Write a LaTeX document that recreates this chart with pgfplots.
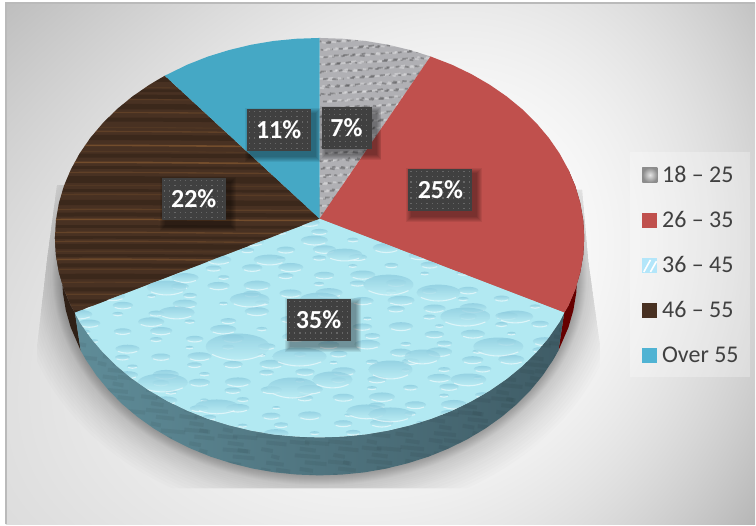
\documentclass[border=0pt]{standalone}
\usepackage{fontspec}
\setmainfont{Carlito}
\usepackage{pgfplots}
\usepackage{pgfplotstable}
\pgfplotsset{compat=1.18}

\definecolor{granitebase}{HTML}{B0B0B4}
\definecolor{pieRed}{HTML}{C0504D}
\definecolor{pieWater}{HTML}{B2E9F2}
\definecolor{dropTop}{HTML}{8CCBDE}
\definecolor{dropBottom}{HTML}{BDEDF4}
\definecolor{pieWood}{HTML}{483122}
\definecolor{pieBlue}{HTML}{45A8C5}
\definecolor{keyBlue}{HTML}{50B3D3}
\definecolor{boxgray}{HTML}{404040}
\definecolor{legtext}{HTML}{404040}
\definecolor{wallA}{HTML}{5F8C98}
\definecolor{wallB}{HTML}{4A7380}
\definecolor{wallC}{HTML}{3F5C66}

% Wall gradient: bright toward the middle right, darker at the corners
\pgfdeclarefunctionalshading{wallshade}{\pgfpoint{0bp}{0bp}}{\pgfpoint{100bp}{100bp}}{}{
  50 sub 25 div exch 50 sub 25 div
  dup 0.2 sub dup dup mul exch 0.06 mul 0.19 add mul 1 exch sub
  2 index dup mul 0.085 mul sub
  1 index 1 exch sub 3 index 1 exch sub mul 0.25 mul dup mul 0.12 mul add
  1 index 1 add 3 index 1 exch sub mul 0.25 mul dup mul 0.05 mul sub
  3 1 roll pop pop dup dup
}

% Top-face outlines of the five slices, in pixel units
\newcommand\ptsGranite{(320,219) (320,38) (343.1,38.8) (366,41) (388.6,44.8) (410.6,50.1) (431,56.5)}
\newcommand\ptsRed{(320,219) (431,56.5) (452.5,64.8) (472,74.2) (490.3,84.8) (507.4,96.6) (523,109.4) (537.1,123.3) (549.5,138) (560.2,153.5) (569,169.6) (576,186.2) (581,203.3) (584,220.6) (585,238) (584,255.4) (581,272.7) (576,289.8) (569,306.4) (565,313)}
\newcommand\ptsWater{(320,219) (565,313) (560.2,322.5) (549.5,338) (537.1,352.7) (523,366.6) (507.4,379.4) (490.3,391.2) (472,401.8) (452.5,411.2) (432,419.3) (410.6,425.9) (388.6,431.2) (366,435) (343.1,437.2) (320,438) (296.9,437.2) (274,435) (251.4,431.2) (229.4,425.9) (208,419.3) (187.5,411.2) (168,401.8) (149.7,391.2) (132.6,379.4) (117,366.6) (102.9,352.7) (90.5,338) (79.8,322.5) (75,313)}
\newcommand\ptsWood{(320,219) (75,313) (71,306.4) (64,289.8) (59,272.7) (56,255.4) (55,238) (56,220.6) (59,203.3) (64,186.2) (71,169.6) (79.8,153.5) (90.5,138) (102.9,123.3) (117,109.4) (132.6,96.6) (149.7,84.8) (165,75.8)}
\newcommand\ptsBlue{(320,219) (165,75.8) (187.5,64.8) (208,56.7) (229.4,50.1) (251.4,44.8) (274,41) (296.9,38.8) (320,38)}
% Side walls of the disc
\newcommand\ptsFrontWall{(565,313) (560.2,322.5) (549.5,338) (537.1,352.7) (523,366.6) (507.4,379.4) (490.3,391.2) (472,401.8) (452.5,411.2) (432,419.3) (410.6,425.9) (388.6,431.2) (366,435) (343.1,437.2) (320,438) (296.9,437.2) (274,435) (251.4,431.2) (229.4,425.9) (208,419.3) (187.5,411.2) (168,401.8) (149.7,391.2) (132.6,379.4) (117,366.6) (102.9,352.7) (90.5,338) (79.8,322.5) (75,313) (80.8,351) (86.2,360.5) (96.6,376) (108.7,390.7) (122.4,404.6) (137.6,417.4) (154.2,429.2) (172,439.8) (191,449.2) (211,457.3) (231.8,463.9) (253.2,469.2) (275.2,473) (297.5,475.2) (320,476) (342.5,475.2) (364.8,473) (386.8,469.2) (408.2,463.9) (429,457.3) (449,449.2) (468,439.8) (485.8,429.2) (502.4,417.4) (517.6,404.6) (531.3,390.7) (543.4,376) (553.8,360.5) (559.2,351)}
\newcommand\ptsRedWall{(569,169.6) (576,186.2) (581,203.3) (584,220.6) (585,238) (584,255.4) (581,272.7) (576,289.8) (569,306.4) (565,313) (559.2,351) (569.2,327.8) (574.1,310.7) (577,293.4) (578,276)}
\newcommand\ptsWoodWall{(75,313) (71,306.4) (64,289.8) (59,272.7) (56,255.4) (55,238) (62,276) (63,293.4) (65.9,310.7) (70.8,327.8) (80.8,351)}

\newcommand\sliceplot[2]{\edef\tmpplot{\noexpand\addplot[#1] coordinates {#2} --cycle;}\tmpplot}
\newcommand\clipto[1]{\edef\tmpclip{\noexpand\clip plot coordinates {#1} --cycle;}\tmpclip}

% Soft shadow the disc throws on the wall behind it
\newcommand\discShadow{%
  \begin{scope}
    \clip (57,185) -- (47,260) -- (37,347) -- (37,489) -- (601,489) -- (601,347) -- (589,260) -- (583,190) -- cycle;
    \foreach \k in {44,41,38,35,32,29,26,24,22,20,18,16,14,12,10}{
      \fill[black,opacity=.01] (320,276) ellipse [x radius=258+\k, y radius=200+\k];
    }
    \foreach \k in {9,8,7,6,5,4,3,2,1}{
      \fill[black,opacity=.024] (320,276) ellipse [x radius=258+\k, y radius=200+\k];
    }
  \end{scope}}

% Granite grain on the first slice
\newcommand\graniteGrain{%
  \begin{scope}
    \clipto{\ptsGranite}
    \foreach \i in {1,...,900}{
      \pgfmathsetmacro\px{318+116*mod(\i*0.7549,1)}
      \pgfmathsetmacro\py{36+186*mod(\i*0.5698,1)}
      \pgfmathsetmacro\pl{2+4*mod(\i*0.381,1)}
      \pgfmathsetmacro\pd{1.6*mod(\i*0.2113,1)-0.8}
      \pgfmathparse{mod(\i,2)==0 ? "white" : "black!85"}
      \edef\pc{\pgfmathresult}
      \draw[\pc,opacity=.3,line width=1.3] (\px,\py) -- ({\px+\pl},{\py+\pd});
    }
  \end{scope}}

% Wood figure on the fourth slice
\newcommand\woodGrain{%
  \begin{scope}
    \clipto{\ptsWood}
    \foreach \y/\w in {80/3,91/2,97/3,107/4,120/3,138/4,156/3,168/2,180/5,191/2,203/4,215/3,227/2,238/2,247/4,256/2,266/3,277/4,290/3,302/3,312/2}{
      \draw[black!60!pieWood,opacity=.3,line width=\w] (40,\y) .. controls (150,\y-1) and (230,\y+1) .. (330,\y+0.5);
    }
    \foreach \y/\o/\w in {88/.2/.8,100/.3/.8,113/.45/1,128/.2/.8,132/.45/1,146/.8/1.2,152/.2/.8,163/.8/1.2,173/.45/1,186/.2/.8,195/.3/1,210/.4/1,220/.8/1.1,233/.55/1,242/.45/1,252/.2/.8,260/.7/1.2,270/.3/.8,283/.3/.8,295/.4/1,306/.2/.8}{
      \draw[brown!45!pieWood,opacity=\o,line width=\w] (40,\y) .. controls (150,\y-1.5) and (230,\y+1.5) .. (330,\y+0.5);
    }
  \end{scope}}

% One droplet on the water slice, with a bright lip along its lower edge
\newcommand\drop[4]{%
  \shade[top color=dropTop,bottom color=dropBottom,opacity=.75] (#1,#2) ellipse [x radius=#3, y radius=#4];
  \draw[white,opacity=.55,line width=.8] (#1-#3*.8,#2+#4*.6) .. controls (#1-#3*.3,#2+#4*1.2) and (#1+#3*.3,#2+#4*1.2) .. (#1+#3*.8,#2+#4*.6);
}

\newcommand\waterDrops{%
  \begin{scope}
    \clipto{\ptsWater}
    \foreach \i in {1,...,260}{
      \pgfmathsetmacro\px{75+490*mod(\i*0.7549,1)}
      \pgfmathsetmacro\py{219+219*mod(\i*0.5698,1)}
      \pgfmathsetmacro\rx{4+10*mod(\i*0.381,1)}
      \pgfmathsetmacro\ry{\rx*0.34}
      \drop{\px}{\py}{\rx}{\ry}
    }
    \foreach \px/\py/\rx/\ry in {238/347/32/13,300/357/27/9,167/288/20/7,177/313/18/6,163/383/25/9,293/388/25/10,333/380/20/8,217/407/22/7,367/412/20/7,389/285/25/10,439/293/22/8,466/317/25/9,391/370/22/9,499/347/25/9,391/415/22/7,516/317/18/6,423/357/18/7,469/380/18/6,320/300/20/7,250/300/20/7,345/255/18/6,270/260/16/5}{
      \drop{\px}{\py}{\rx}{\ry}
    }
  \end{scope}}

% Mottling on the front wall
\newcommand\wallGrain{%
  \begin{scope}
    \clipto{\ptsFrontWall}
    \foreach \i in {1,...,420}{
      \pgfmathsetmacro\px{70+490*mod(\i*0.7549,1)}
      \pgfmathsetmacro\py{310+170*mod(\i*0.5698,1)}
      \pgfmathsetmacro\pl{8+18*mod(\i*0.381,1)}
      \draw[black,opacity=.05,line width=3] (\px,\py) -- ({\px+\pl},{\py+2});
    }
  \end{scope}}

% Dark dotted value tag with its drop shadow: centre x, centre y, half width, last dot column, text
\newcommand\valuetag[5]{%
  \foreach \k in {6,5,...,1}{
    \fill[black,opacity=.07] (#1-#3+4-\k,#2-21+5-\k) rectangle (#1+#3+4+\k,#2+21+5+\k);
  }
  \fill[boxgray] (#1-#3,#2-21) rectangle (#1+#3,#2+21);
  \foreach \dx in {0,...,#4}{
    \foreach \dy in {0,...,7}{
      \fill[white!20!boxgray] (#1-#3+2+5.3*\dx,#2-19+5.3*\dy) rectangle (#1-#3+3.3+5.3*\dx,#2-17.7+5.3*\dy);
    }
  }
  \node[text=white,font=\fontsize{19.5pt}{22pt}\bfseries,inner sep=0pt] at (#1,#2) {#5};
}

\pgfplotsset{
  swatch/.style={legend image code/.code={\fill[##1] (0pt,-5.6pt) rectangle (11.25pt,5.6pt);}},
  granite slice/.style={fill=granitebase,draw=none,legend image code/.code={\shade[inner color=white!90!black,outer color=black!45] (0pt,-5.6pt) rectangle (11.25pt,5.6pt);}},
  red slice/.style={fill=pieRed,draw=none,swatch},
  water slice/.style={fill=pieWater,draw=none,legend image code/.code={\fill[cyan!30!white] (0pt,-5.6pt) rectangle (11.25pt,5.6pt);\draw[white,line width=1.2pt] (1pt,-5pt) -- (6pt,4pt) (6pt,-5pt) -- (10.5pt,3pt);}},
  wood slice/.style={fill=pieWood,draw=none,swatch},
  blue slice/.style={fill=pieBlue,draw=none,legend image code/.code={\fill[keyBlue] (0pt,-5.6pt) rectangle (11.25pt,5.6pt);}},
  front wall/.style={draw=none,left color=wallA,middle color=wallB,right color=wallC,forget plot},
  red wall/.style={fill=red!40!black,draw=none,forget plot},
  wood wall/.style={fill=black!35!pieWood,draw=none,forget plot},
}

\begin{document}
\begin{tikzpicture}
\begin{axis}[
  scale only axis, width=567pt, height=393.75pt,
  xmin=0, xmax=756, ymin=0, ymax=525, y dir=reverse,
  axis lines=none, clip=false,
  legend style={at={(0.8347,0.7105)},anchor=north west,draw=none,fill=none,
    font=\fontsize{18pt}{20pt}\selectfont,text=legtext,inner xsep=9pt,inner ysep=8.25pt,
    row sep=16.25pt,cells={anchor=west},
    /tikz/every odd column/.append style={column sep=1.5pt}},
]
% page and wall
\pgfplotsextra{
  \fill[white] (0,0) rectangle (756,525);
  \shade[shading=wallshade] (6,3) rectangle (756,525);
  \draw[black!27,line width=1.5] (6,525) -- (6,3) -- (756,3);
  \fill[white,opacity=.28] (631,152) rectangle (751,377);
  \discShadow
}
% side walls
\sliceplot{red wall}{\ptsRedWall}
\sliceplot{wood wall}{\ptsWoodWall}
\sliceplot{front wall}{\ptsFrontWall}
\pgfplotsextra{\wallGrain}
% top faces: 7, 25, 35, 22 and 11 per cent
\sliceplot{granite slice}{\ptsGranite}
\addlegendentry{18 – 25}
\sliceplot{red slice}{\ptsRed}
\addlegendentry{26 – 35}
\sliceplot{water slice}{\ptsWater}
\addlegendentry{36 – 45}
\sliceplot{wood slice}{\ptsWood}
\addlegendentry{46 – 55}
\sliceplot{blue slice}{\ptsBlue}
\addlegendentry{Over 55}
\pgfplotsextra{
  \graniteGrain
  \woodGrain
  \waterDrops
  \valuetag{347}{128}{25}{8}{7\%}
  \valuetag{279}{130}{32}{11}{11\%}
  \valuetag{441}{190}{32}{11}{25\%}
  \valuetag{194}{199}{32}{11}{22\%}
  \valuetag{319}{320}{32}{11}{35\%}
}
\end{axis}
\end{tikzpicture}
\end{document}
